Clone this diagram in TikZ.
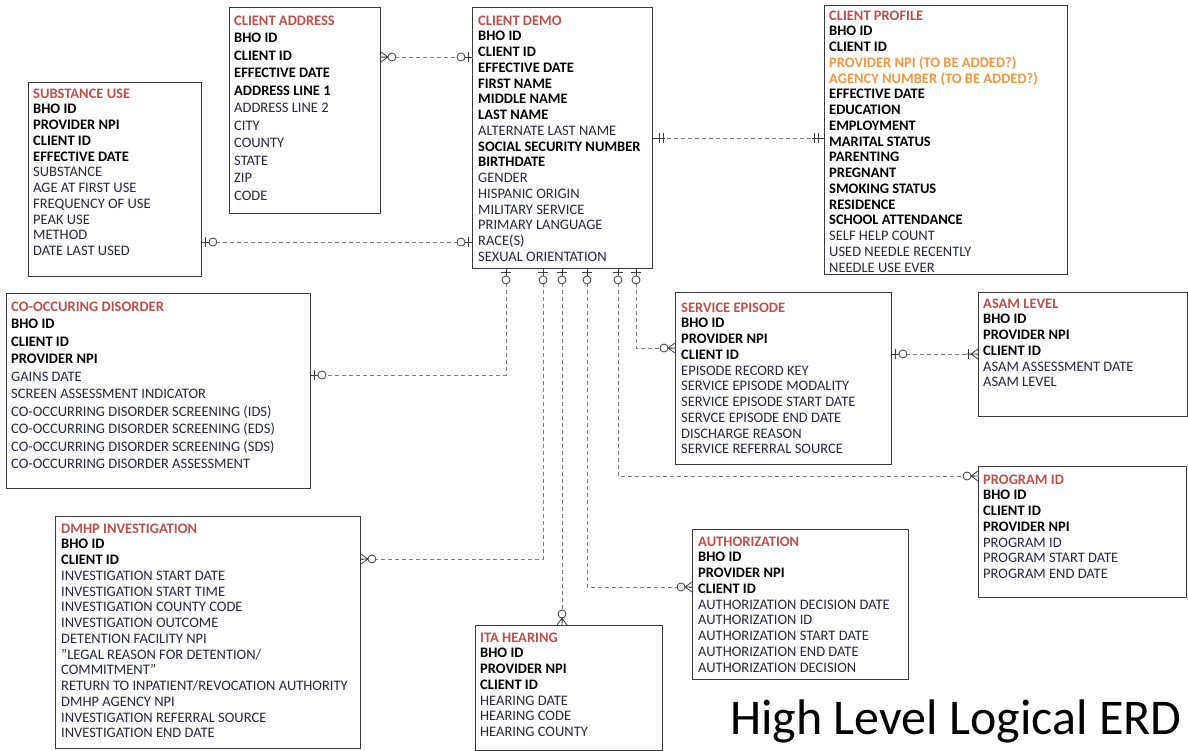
\documentclass[tikz,border=0pt]{standalone}
\usepackage{fontspec}
\setmainfont{Carlito}
\usetikzlibrary{decorations.markings}
\definecolor{ttlc}{HTML}{C0504D}
\definecolor{orgc}{HTML}{F79646}
\definecolor{regc}{RGB}{40,40,62}
\definecolor{lnc}{HTML}{7F7F7F}
\definecolor{mkc}{HTML}{3F3F3F}
\definecolor{bxc}{HTML}{3A3A3A}
\newcommand\ttl[1]{\textcolor{ttlc}{\textbf{#1}}}
\newcommand\bb[1]{\textcolor{black}{\textbf{#1}}}
\newcommand\og[1]{\textcolor{orgc}{\textbf{#1}}}
% markers: box edge at origin, line along negative x
\newcommand\mkZO{\draw[mk] (-7,0)--(0,0); \draw[mk] (-3.5,-5)--(-3.5,5); \draw[mk,fill=white] (-11,0) circle[radius=4];}
\newcommand\mkOO{\draw[mk] (-12,0)--(0,0); \draw[mk] (-6,-5)--(-6,5); \draw[mk] (-10,-5)--(-10,5);}
\newcommand\mkZM{\draw[mk] (-7,0)--(0,-5) (-7,0)--(0,0) (-7,0)--(0,5); \draw[mk,fill=white] (-11,0) circle[radius=4];}
\newcommand\mkOM{\draw[mk] (-7,0)--(0,-5) (-12,0)--(0,0) (-7,0)--(0,5); \draw[mk] (-10,-5)--(-10,5);}
\tikzset{
  mk/.style={solid, draw=mkc, line width=0.8pt},
  conn/.style={draw=lnc, dash pattern=on 4pt off 3pt, line width=0.8pt},
  tipA/.style={postaction={decorate,decoration={markings,mark=at position 0 with {\begin{scope}[rotate=180]#1\end{scope}}}}},
  tipB/.style={postaction={decorate,decoration={markings,mark=at position 1 with {#1}}}},
  box/.style={draw=bxc, line width=0.9pt, fill=white, anchor=north west, inner sep=0pt},
  txt/.style={anchor=north west, inner sep=0pt, align=left, text=regc, font=\fontsize{14.5}{15.75}\selectfont},
  txtw/.style={txt, font=\fontsize{14.5}{17.5}\selectfont},
}
\begin{document}
\begin{tikzpicture}[x=1pt,y=-1pt]
\useasboundingbox (0,0) rectangle (1188,751);
\fill[white] (0,0) rectangle (1188,751);
% boxes
\node[box, minimum width=151pt, minimum height=206pt] (addr) at (229,7) {};
\node[box, minimum width=180pt, minimum height=261pt] (demo) at (472,7) {};
\node[box, minimum width=243pt, minimum height=269pt] (prof) at (824,5) {};
\node[box, minimum width=173pt, minimum height=194pt] (sub) at (28,82) {};
\node[box, minimum width=304pt, minimum height=195pt] (cod) at (6,293) {};
\node[box, minimum width=216pt, minimum height=172pt] (serv) at (675,292) {};
\node[box, minimum width=209pt, minimum height=124pt] (asam) at (978,292) {};
\node[box, minimum width=208pt, minimum height=131pt] (prog) at (978,466) {};
\node[box, minimum width=305pt, minimum height=232pt] (dmhp) at (55,516) {};
\node[box, minimum width=187pt, minimum height=125pt] (ita) at (475,625) {};
\node[box, minimum width=216pt, minimum height=150pt] (auth) at (692,529) {};
% texts
\node[txtw] (addrT) at ([xshift=5pt,yshift=-8.5pt]addr.north west) {\ttl{CLIENT ADDRESS}\\ \bb{BHO ID}\\ \bb{CLIENT ID}\\ \bb{EFFECTIVE DATE}\\ \bb{ADDRESS LINE 1}\\ ADDRESS LINE 2\\ CITY\\ COUNTY\\ STATE\\ ZIP\\ CODE};
\node[txt] (demoT) at ([xshift=6pt,yshift=-8.5pt]demo.north west) {\ttl{CLIENT DEMO}\\ \bb{BHO ID}\\ \bb{CLIENT ID}\\ \bb{EFFECTIVE DATE}\\ \bb{FIRST NAME}\\ \bb{MIDDLE NAME}\\ \bb{LAST NAME}\\ ALTERNATE LAST NAME\\ \bb{SOCIAL SECURITY NUMBER}\\ \bb{BIRTHDATE}\\ GENDER\\ HISPANIC ORIGIN\\ MILITARY SERVICE\\ PRIMARY LANGUAGE\\ RACE(S)\\ SEXUAL ORIENTATION};
\node[txt] (profT) at ([xshift=5pt,yshift=-5.5pt]prof.north west) {\ttl{CLIENT PROFILE}\\ \bb{BHO ID}\\ \bb{CLIENT ID}\\ \og{PROVIDER NPI (TO BE ADDED?)}\\ \og{AGENCY NUMBER (TO BE ADDED?)}\\ \bb{EFFECTIVE DATE}\\ \bb{EDUCATION}\\ \bb{EMPLOYMENT}\\ \bb{MARITAL STATUS}\\ \bb{PARENTING}\\ \bb{PREGNANT}\\ \bb{SMOKING STATUS}\\ \bb{RESIDENCE}\\ \bb{SCHOOL ATTENDANCE}\\ SELF HELP COUNT\\ USED NEEDLE RECENTLY\\ NEEDLE USE EVER};
\node[txt] (subT) at ([xshift=5pt,yshift=-6.5pt]sub.north west) {\ttl{SUBSTANCE USE}\\ \bb{BHO ID}\\ \bb{PROVIDER NPI}\\ \bb{CLIENT ID}\\ \bb{EFFECTIVE DATE}\\ SUBSTANCE\\ AGE AT FIRST USE\\ FREQUENCY OF USE\\ PEAK USE\\ METHOD\\ DATE LAST USED};
\node[txtw] (codT) at ([xshift=5pt,yshift=-8.5pt]cod.north west) {\ttl{CO-OCCURING DISORDER}\\ \bb{BHO ID}\\ \bb{CLIENT ID}\\ \bb{PROVIDER NPI}\\ GAINS DATE\\ SCREEN ASSESSMENT INDICATOR\\ CO-OCCURRING DISORDER SCREENING (IDS)\\ CO-OCCURRING DISORDER SCREENING (EDS)\\ CO-OCCURRING DISORDER SCREENING (SDS)\\ CO-OCCURRING DISORDER ASSESSMENT};
\node[txt] (servT) at ([xshift=6pt,yshift=-10.5pt]serv.north west) {\ttl{SERVICE EPISODE}\\ \bb{BHO ID}\\ \bb{PROVIDER NPI}\\ \bb{CLIENT ID}\\ EPISODE RECORD KEY\\ SERVICE EPISODE MODALITY\\ SERVICE EPISODE START DATE\\ SERVCE EPISODE END DATE\\ DISCHARGE REASON\\ SERVICE REFERRAL SOURCE};
\node[txt] (asamT) at ([xshift=5pt,yshift=-6.5pt]asam.north west) {\ttl{ASAM LEVEL}\\ \bb{BHO ID}\\ \bb{PROVIDER NPI}\\ \bb{CLIENT ID}\\ ASAM ASSESSMENT DATE\\ ASAM LEVEL};
\node[txt] (progT) at ([xshift=5pt,yshift=-8.5pt]prog.north west) {\ttl{PROGRAM ID}\\ \bb{BHO ID}\\ \bb{CLIENT ID}\\ \bb{PROVIDER NPI}\\ PROGRAM ID\\ PROGRAM START DATE\\ PROGRAM END DATE};
\node[txt] (dmhpT) at ([xshift=6pt,yshift=-7.5pt]dmhp.north west) {\ttl{DMHP INVESTIGATION}\\ \bb{BHO ID}\\ \bb{CLIENT ID}\\ INVESTIGATION START DATE\\ INVESTIGATION START TIME\\ INVESTIGATION COUNTY CODE\\ INVESTIGATION OUTCOME\\ DETENTION FACILITY NPI\\ "LEGAL REASON FOR DETENTION/\\ COMMITMENT"\\ RETURN TO INPATIENT/REVOCATION AUTHORITY\\ DMHP AGENCY NPI\\ INVESTIGATION REFERRAL SOURCE\\ INVESTIGATION END DATE};
\node[txt] (itaT) at ([xshift=5pt,yshift=-7.5pt]ita.north west) {\ttl{ITA HEARING}\\ \bb{BHO ID}\\ \bb{PROVIDER NPI}\\ \bb{CLIENT ID}\\ HEARING DATE\\ HEARING CODE\\ HEARING COUNTY};
\node[txt] (authT) at ([xshift=6pt,yshift=-7.5pt]auth.north west) {\ttl{AUTHORIZATION}\\ \bb{BHO ID}\\ \bb{PROVIDER NPI}\\ \bb{CLIENT ID}\\ AUTHORIZATION DECISION DATE\\ AUTHORIZATION ID\\ AUTHORIZATION START DATE\\ AUTHORIZATION END DATE\\ AUTHORIZATION DECISION};
% connectors
\draw[conn, tipA=\mkZM, tipB=\mkZO] ([yshift=-50pt]addr.north east) -- ([yshift=-50pt]demo.north west);
\draw[conn, tipA=\mkZO, tipB=\mkZO] ([yshift=-160pt]sub.north east) -- ([yshift=-235pt]demo.north west);
\draw[conn, tipA=\mkOO, tipB=\mkOO] ([yshift=-131pt]demo.north east) -- ([yshift=-133pt]prof.north west);
\draw[conn, tipA=\mkZO, tipB=\mkOM] ([yshift=-62pt]serv.north east) -- ([yshift=-62pt]asam.north west);
\draw[conn, tipA=\mkZO, tipB=\mkZO] ([xshift=34pt]demo.south west) |- ([yshift=-82pt]cod.north east);
\draw[conn, tipA=\mkZO, tipB=\mkZM] ([xshift=71pt]demo.south west) |- ([yshift=-43pt]dmhp.north east);
\draw[conn, tipA=\mkZO, tipB=\mkZM] ([xshift=90pt]demo.south west) -- ([xshift=87pt]ita.north west);
\draw[conn, tipA=\mkZO, tipB=\mkZM] ([xshift=115pt]demo.south west) |- ([yshift=-58pt]auth.north west);
\draw[conn, tipA=\mkZO, tipB=\mkZM] ([xshift=146pt]demo.south west) |- ([yshift=-10pt]prog.north west);
\draw[conn, tipA=\mkZO, tipB=\mkZM] ([xshift=164pt]demo.south west) |- ([yshift=-56pt]serv.north west);
% caption
\node[anchor=base west, inner sep=0pt, font=\fontsize{50}{58}\selectfont, text=black] (cap) at (730,734) {High Level Logical ERD};
\end{tikzpicture}
\end{document}
